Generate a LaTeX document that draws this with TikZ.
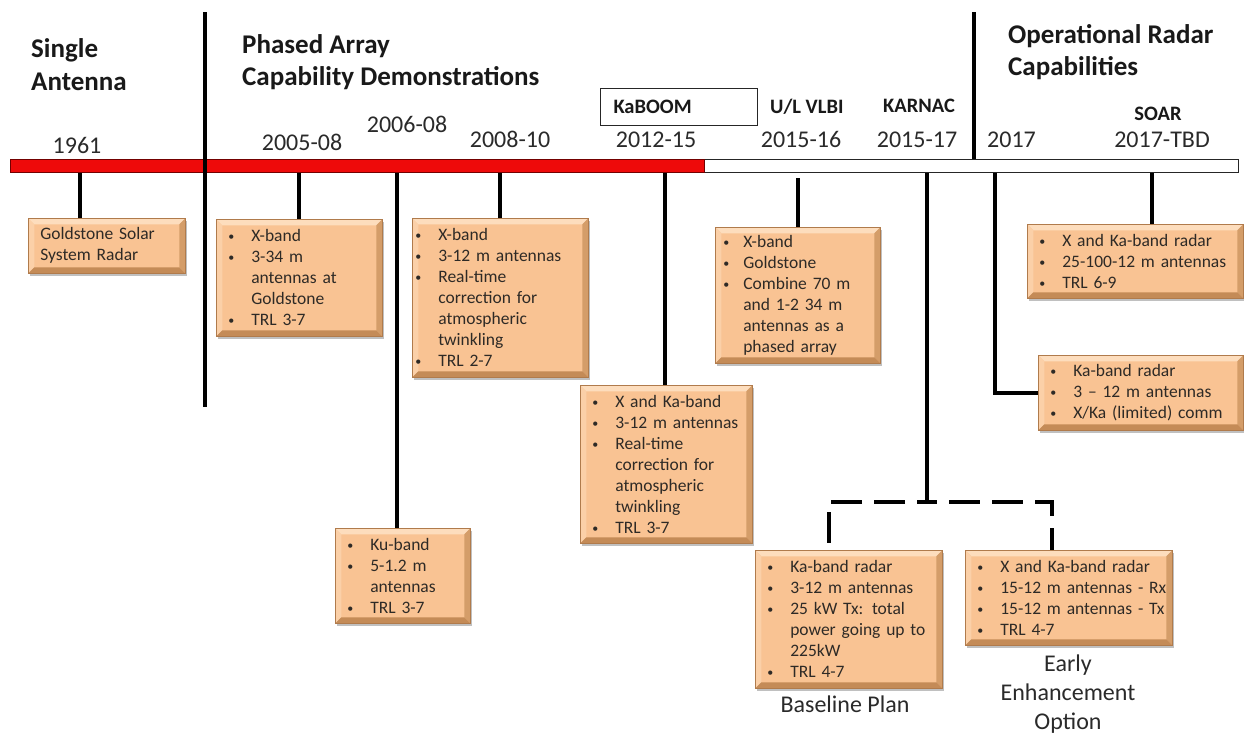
\documentclass[tikz,border=0pt]{standalone}
\usepackage{fontspec}
\setmainfont{Carlito}
\usetikzlibrary{shadows}
\definecolor{boxfill}{HTML}{F9C393}
\definecolor{boxedge}{HTML}{B07B4C}
\definecolor{bvtop}{HTML}{FDDDBD}
\definecolor{bvleft}{HTML}{FBD0A8}
\definecolor{bvright}{HTML}{D49D69}
\definecolor{bvbot}{HTML}{C48B57}
\definecolor{boxtext}{HTML}{2E2A26}
\definecolor{yrtext}{HTML}{2A2A2A}
\definecolor{barred}{HTML}{EE0A0A}
\newlength\bpad \setlength\bpad{12pt}
\newlength\bind \setlength\bind{23pt}
\newcommand\smallbullet{\raisebox{1.2pt}{\fontsize{12}{12}\selectfont\textbullet}}
\newcommand\bi{\hspace*{\bpad}\makebox[\bind][l]{\smallbullet}}
\newcommand\ci{\hspace*{\bpad}\hspace*{\bind}}
\newcommand\pl{\hspace*{\bpad}}
\newcommand\boxfont{\fontsize{17.5}{21}\selectfont}
\newcommand\yrfont{\fontsize{24}{29.5}\selectfont}
\newcommand\optfont{\fontsize{24}{29}\selectfont}
\newcommand\ttlfont{\fontsize{27}{32}\selectfont\bfseries}
\newcommand\lblfont{\fontsize{20.5}{24}\selectfont\bfseries}
\begin{document}
\begin{tikzpicture}[x=1pt,y=-1pt,
  bevel/.style={path picture={
    \path (path picture bounding box.north west) coordinate (pNW)
          (path picture bounding box.north east) coordinate (pNE)
          (path picture bounding box.south west) coordinate (pSW)
          (path picture bounding box.south east) coordinate (pSE);
    \fill[bvtop] (pNW) -- (pNE) -- ([xshift=-6pt,yshift=-6pt]pNE) -- ([xshift=6pt,yshift=-6pt]pNW) -- cycle;
    \fill[bvleft] (pNW) -- ([xshift=6pt,yshift=-6pt]pNW) -- ([xshift=6pt,yshift=6pt]pSW) -- (pSW) -- cycle;
    \fill[bvright] (pNE) -- (pSE) -- ([xshift=-6pt,yshift=6pt]pSE) -- ([xshift=-6pt,yshift=-6pt]pNE) -- cycle;
    \fill[bvbot] (pSW) -- ([xshift=6pt,yshift=6pt]pSW) -- ([xshift=-6pt,yshift=6pt]pSE) -- (pSE) -- cycle;
  }},
  ebox/.style={draw=boxedge, line width=0.6pt, fill=boxfill, bevel,
    drop shadow={shadow xshift=2pt, shadow yshift=-2.5pt, opacity=0.35, fill=black!70},
    anchor=north west, inner xsep=0pt, inner ysep=0pt, align=left,
    font=\boxfont, text=boxtext},
  bset/.style 2 args={execute at begin node={\setlength\bpad{#1}\setlength\bind{#2}}},
  conn/.style={line width=3.5pt, black},
  sepline/.style={line width=3.5pt, black},
  dconn/.style={line width=3.5pt, black, dash pattern=on 31pt off 12pt, dash phase=21pt},
  yr/.style={font=\yrfont, text=yrtext, inner sep=0pt},
  ttl/.style={font=\ttlfont, text=black!90, inner sep=0pt, anchor=base west},
  lbl/.style={font=\lblfont, text=black!90, inner sep=0pt}
]
\useasboundingbox[fill=white] (0,0) rectangle (1244,737);

% timeline bar
\node[draw=black!85, line width=1pt, fill=white, minimum width=1228pt, minimum height=13pt,
      inner sep=0pt, anchor=north west] (bar) at (10,159) {};
\coordinate (redend) at (704,172);
\fill[barred, draw=red!45!black, line width=0.8pt] (bar.north west) rectangle (redend);

% separators
\coordinate (s1t) at (205,12);
\coordinate (s1b) at (205,407);
\draw[sepline] (s1t) -- (s1b);
\coordinate (s2t) at (974,12);
\draw[sepline] (s2t) -- (s2t |- bar.north);

% titles
\node[ttl] (t1a) at (31,57) {Single};
\node[ttl] (t1b) at (31,90) {Antenna};
\node[ttl] (t2a) at (242,53) {Phased Array};
\node[ttl] (t2b) at (242,85) {Capability Demonstrations};
\node[ttl] (t3a) at (1008,43) {Operational Radar};
\node[ttl] (t3b) at (1008,75) {Capabilities};

% small labels
\node[draw=black!85, line width=1pt, minimum width=157pt, minimum height=37pt, text width=157pt,
      inner sep=0pt, align=left, anchor=north west, font=\lblfont, text=black!90] (kab) at (600,88) {\hspace*{13pt}KaBOOM};
\node[lbl, anchor=base west] (lvlbi) at (770,113) {U/L VLBI};
\node[lbl, anchor=base west] (lkarnac) at (883,112) {KARNAC};
\node[lbl, anchor=base] (lsoar) at (1158,120) {SOAR};

% years
\node[yr, anchor=base] (y1) at (77,153) {1961};
\node[yr, anchor=base] (y2) at (302,150) {2005-08};
\node[yr, anchor=base] (y3) at (407,132) {2006-08};
\node[yr, anchor=base] (y4) at (510,147) {2008-10};
\node[yr, anchor=base] (y5) at (656,147) {2012-15};
\node[yr, anchor=base] (y6) at (801,147) {2015-16};
\node[yr, anchor=base] (y7) at (917,147) {2015-17};
\node[yr, anchor=base west] (y8) at (987,147) {2017};
\node[yr, anchor=base] (y9) at (1162,147) {2017-TBD};

% boxes
\node[ebox, text width=157pt, minimum height=55pt] (b1) at (28,218)
  {\pl Goldstone Solar\\\pl System Radar};
\node[ebox, text width=166pt, minimum height=117pt] (b2) at (216,219)
  {\bi X-band\\\bi 3-34 m\\\ci antennas at\\\ci Goldstone\\\bi TRL 3-7};
\node[ebox, bset={3pt}{23pt}, text width=176pt, minimum height=159pt] (b3) at (412,218)
  {\bi X-band\\\bi 3-12 m antennas\\\bi Real-time\\\ci correction for\\\ci atmospheric\\\ci twinkling\\\bi TRL 2-7};
\node[ebox, text width=135pt, minimum height=95pt] (b4) at (335,528)
  {\bi Ku-band\\\bi 5-1.2 m\\\ci antennas\\\bi TRL 3-7};
\node[ebox, text width=172pt, minimum height=158pt] (b5) at (580,385)
  {\bi X and Ka-band\\\bi 3-12 m antennas\\\bi Real-time\\\ci correction for\\\ci atmospheric\\\ci twinkling\\\bi TRL 3-7};
\node[ebox, bset={8pt}{20pt}, text width=165pt, minimum height=136pt] (b6) at (715,227)
  {\bi X-band\\\bi Goldstone\\\bi Combine 70 m\\\ci and 1-2 34 m\\\ci antennas as a\\\ci phased array};
\node[ebox, text width=216pt, minimum height=74pt] (b7) at (1027,224)
  {\bi X and Ka-band radar\\\bi 25-100-12 m antennas\\\bi TRL 6-9};
\node[ebox, text width=205pt, minimum height=75pt] (b8) at (1038,355)
  {\bi Ka-band radar\\\bi 3 -- 12 m antennas\\\bi X/Ka (limited) comm};
\node[ebox, text width=187pt, minimum height=138pt] (b9) at (755,550)
  {\bi Ka-band radar\\\bi 3-12 m antennas\\\bi 25 kW Tx: total\\\ci power going up to\\\ci 225kW\\\bi TRL 4-7};
\node[ebox, text width=207pt, minimum height=95pt] (b10) at (965,550)
  {\bi X and Ka-band radar\\\bi 15-12 m antennas - Rx\\\bi 15-12 m antennas - Tx\\\bi TRL 4-7};

% bottom labels
\node[yr, anchor=base] (lbase) at (845,712) {Baseline Plan};
\node[yr, font=\optfont, align=center, anchor=north] (learly) at (1068,655) {Early\\Enhancement\\Option};

% connectors
\coordinate (x1) at (80,0);
\coordinate (x2) at (299,0);
\coordinate (x3) at (500,0);
\coordinate (x4) at (397,0);
\coordinate (x5) at (665,0);
\coordinate (x6) at (798,178);
\coordinate (x7) at (1152,0);
\coordinate (x8) at (995,0);
\coordinate (x9) at (927,0);
\coordinate (jn) at (927,502);
\coordinate (xl) at (829,0);
\coordinate (xr) at (1052,0);
\draw[conn] (x1 |- bar.south) -- (x1 |- b1.north);
\draw[conn] (x2 |- bar.south) -- (x2 |- b2.north);
\draw[conn] (x3 |- bar.south) -- (x3 |- b3.north);
\draw[conn] (x4 |- bar.south) -- (x4 |- b4.north);
\draw[conn] (x5 |- bar.south) -- (x5 |- b5.north);
\draw[conn] (x6) -- (x6 |- b6.north);
\draw[conn] (x7 |- bar.south) -- (x7 |- b7.north);
\draw[conn] (x8 |- bar.south) |- (b8.west);
\draw[conn] (x9 |- bar.south) -- (jn);
\draw[dconn] (jn) -| (xl |- b9.north);
\draw[dconn] (jn) -| (xr |- b10.north);
\end{tikzpicture}
\end{document}
